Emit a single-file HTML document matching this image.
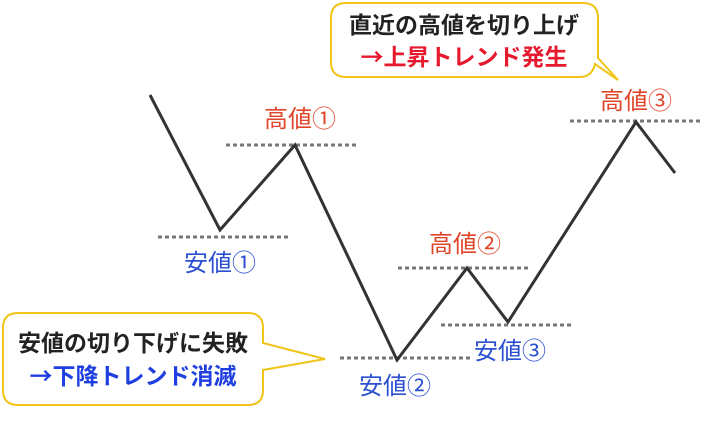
<!DOCTYPE html>
<html><head><meta charset="utf-8"><style>
body{margin:0;background:#fff;width:705px;height:425px;overflow:hidden}
svg text{font-family:"Liberation Sans","Noto Sans CJK JP",sans-serif}
.cj{font-family:"Noto Sans CJK JP",sans-serif}
</style></head><body>
<svg width="705" height="425" viewBox="0 0 705 425">
<g stroke="#777" stroke-width="3" stroke-dasharray="4,3">
<line x1="226" y1="145" x2="356" y2="145"/>
<line x1="158" y1="237" x2="288" y2="237"/>
<line x1="398" y1="268" x2="528" y2="268"/>
<line x1="441" y1="325" x2="572" y2="325"/>
<line x1="340" y1="358" x2="470" y2="358"/>
<line x1="570" y1="121" x2="700" y2="121"/>
</g>
<polyline points="150,95 220,230 295,145 397,360 467,268 508,322 636,122 675,173" fill="none" stroke="#333" stroke-width="3" stroke-linejoin="miter"/>
<g font-size="24" text-anchor="middle">
<text x="300" y="127" fill="#e0452a">高値①</text>
<text x="220" y="271" fill="#2a4fd0">安値①</text>
<text x="465" y="252" fill="#e0452a">高値②</text>
<text x="510" y="359" fill="#2a4fd0">安値③</text>
<text x="395" y="394" fill="#2a4fd0">安値②</text>
<text x="636" y="109" fill="#e0452a">高値③</text>
</g>
<path d="M346,3 H583 Q598,3 598,18 V58 L618,80 L595,64 Q592,77 580,77 H346 Q331,77 331,62 V18 Q331,3 346,3 Z" fill="#fff" stroke="#f0c419" stroke-width="2"/>
<text x="464" y="33" font-size="23" font-weight="bold" fill="#222" text-anchor="middle" class="cj">直近の高値を切り上げ</text>
<text x="464" y="65" font-size="23" font-weight="bold" fill="#e6192e" text-anchor="middle" class="cj">→上昇トレンド発生</text>
<path d="M18,313 H248 Q263,313 263,328 V343 L325,359 L263,370 V390 Q263,405 248,405 H18 Q3,405 3,390 V328 Q3,313 18,313 Z" fill="#fff" stroke="#f0c419" stroke-width="2"/>
<text x="133" y="351" font-size="23" font-weight="bold" fill="#222" text-anchor="middle" class="cj">安値の切り下げに失敗</text>
<text x="133" y="384" font-size="23" font-weight="bold" fill="#1f3fe0" text-anchor="middle" class="cj">→下降トレンド消滅</text>
</svg>
</body></html>
